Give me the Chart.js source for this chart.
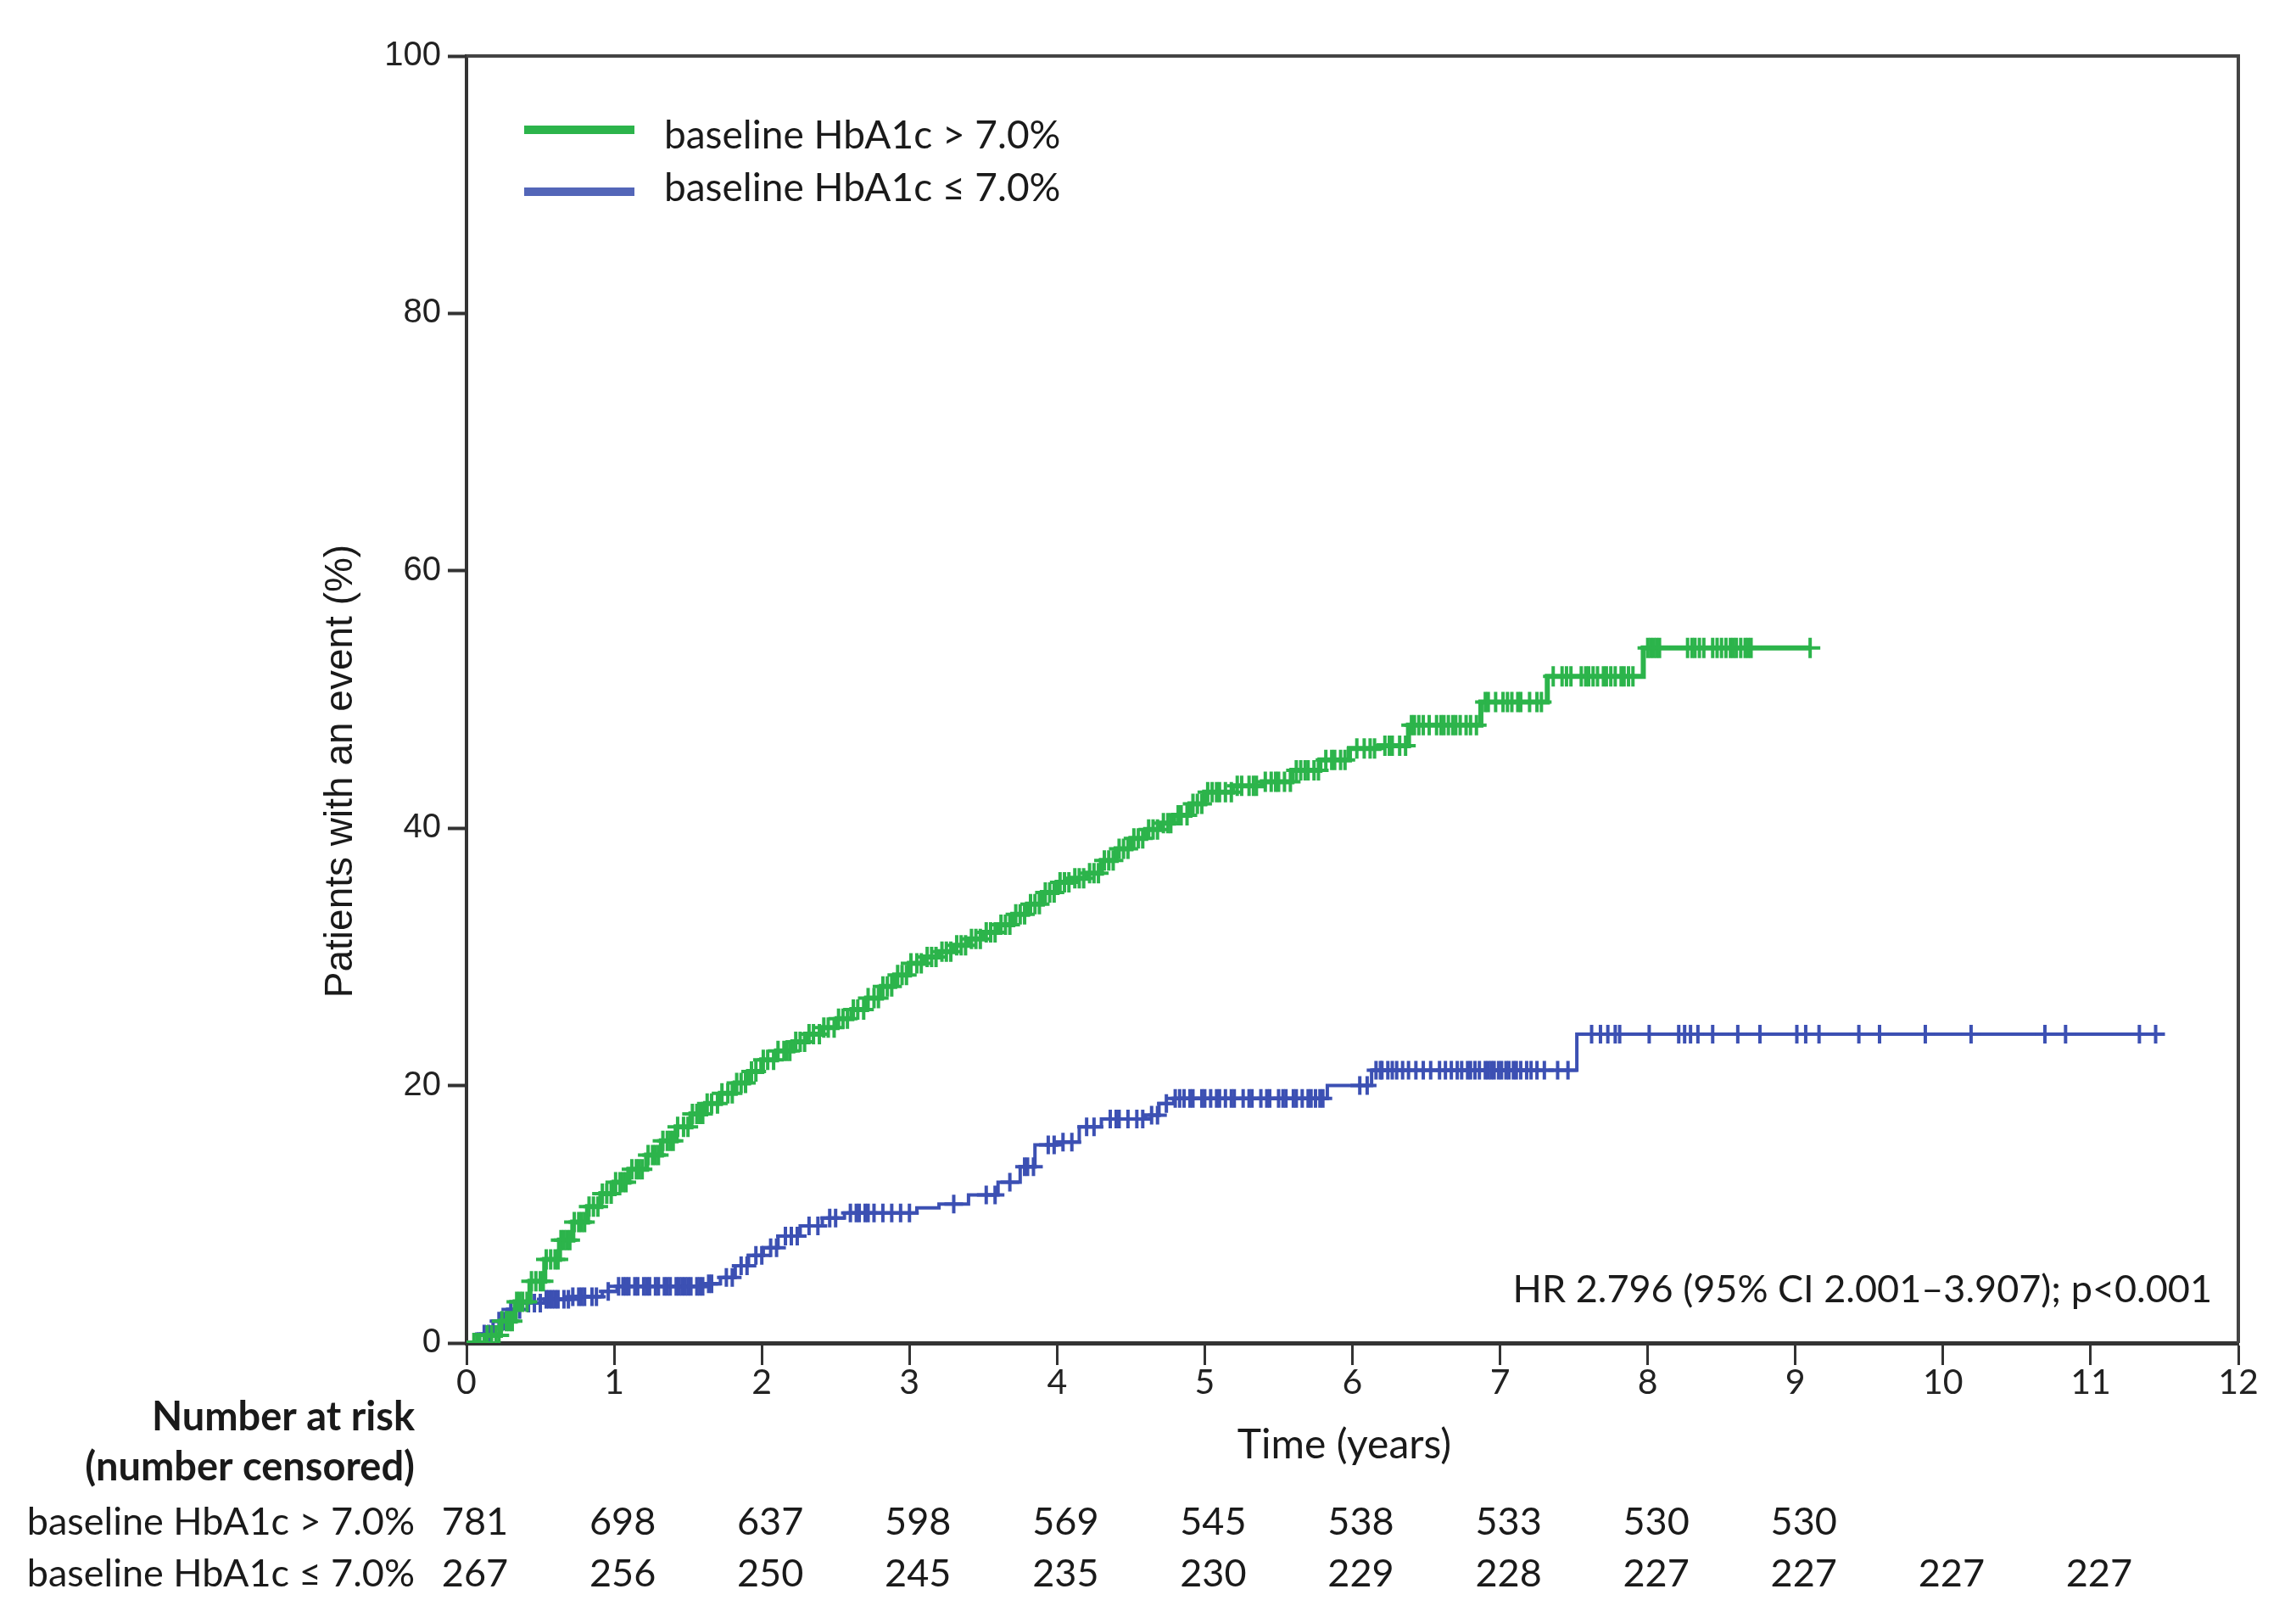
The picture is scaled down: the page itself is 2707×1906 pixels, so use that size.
<!DOCTYPE html>
<html>
<head>
<meta charset="utf-8">
<script src="https://cdn.jsdelivr.net/npm/chart.js@4.4.0/dist/chart.umd.min.js"></script>
<style>
    html, body { margin: 0; padding: 0; background: #fff; }
    #wrap { width: 2707px; height: 1906px; }
</style>
</head>
<body>
<div id="wrap"><canvas id="kmChart" width="2707" height="1906"></canvas></div>
<script>
// Series labels
const seriesLabels = ['baseline HbA1c > 7.0%', 'baseline HbA1c \u2264 7.0%'];

// baseline HbA1c > 7.0% : event steps (years, % with event)
const highTimes = [0, 0.13, 0.23, 0.33, 0.43, 0.53, 0.63, 0.72, 0.82, 0.91, 1.0, 1.1, 1.22, 1.32, 1.42, 1.52,
    1.62, 1.72, 1.82, 1.91, 2.0, 2.1, 2.21, 2.31, 2.41, 2.51, 2.61, 2.71, 2.81, 2.9, 3.0, 3.1, 3.2, 3.3,
    3.4, 3.5, 3.6, 3.7, 3.8, 3.9, 4.0, 4.1, 4.2, 4.3, 4.4, 4.5, 4.6, 4.7, 4.79, 4.9, 5.0, 5.19, 5.39,
    5.59, 5.78, 5.98, 6.18, 6.38, 6.87, 7.32, 7.97, 9.1];
const highValues = [0, 0.6, 1.7, 3.2, 4.8, 6.5, 8.0, 9.4, 10.6, 11.6, 12.5, 13.5, 14.6, 15.7, 16.8, 17.8,
    18.6, 19.4, 20.2, 21.1, 22.0, 22.7, 23.4, 24.0, 24.5, 25.2, 25.9, 26.8, 27.7, 28.6, 29.5, 30.0, 30.4, 30.9,
    31.4, 31.9, 32.5, 33.3, 34.1, 35.0, 35.8, 36.1, 36.5, 37.5, 38.4, 39.2, 39.9, 40.4, 41.0, 41.9, 42.8, 43.3, 43.6,
    44.5, 45.3, 46.2, 46.4, 48.0, 49.8, 51.8, 54.0, 54.0];
// censoring times (years)
const highCensor = [0.05, 0.07, 0.09, 0.12, 0.14, 0.17, 0.2, 0.22, 0.24, 0.27, 0.29, 0.31, 0.34, 0.36, 0.38,
    0.41, 0.44, 0.47, 0.5, 0.52, 0.54, 0.57, 0.6, 0.62, 0.64, 0.66, 0.68, 0.7, 0.73, 0.76, 0.78, 0.8, 0.83,
    0.86, 0.89, 0.92, 0.95, 0.98, 1.01, 1.04, 1.06, 1.08, 1.12, 1.15, 1.17, 1.19, 1.23, 1.26, 1.28, 1.3, 1.33,
    1.36, 1.38, 1.4, 1.43, 1.47, 1.5, 1.53, 1.56, 1.58, 1.6, 1.63, 1.66, 1.7, 1.73, 1.77, 1.8, 1.83, 1.86,
    1.89, 1.93, 1.96, 2.01, 2.04, 2.08, 2.11, 2.15, 2.17, 2.19, 2.23, 2.26, 2.29, 2.32, 2.35, 2.39, 2.42, 2.45,
    2.49, 2.52, 2.55, 2.58, 2.62, 2.65, 2.69, 2.72, 2.76, 2.79, 2.82, 2.85, 2.88, 2.92, 2.95, 2.98, 3.01, 3.05,
    3.08, 3.12, 3.15, 3.18, 3.22, 3.25, 3.28, 3.32, 3.35, 3.38, 3.42, 3.45, 3.48, 3.52, 3.55, 3.58, 3.62, 3.65,
    3.68, 3.72, 3.75, 3.78, 3.82, 3.85, 3.88, 3.92, 3.95, 3.98, 4.02, 4.05, 4.08, 4.12, 4.15, 4.18, 4.22, 4.25,
    4.28, 4.32, 4.35, 4.38, 4.42, 4.45, 4.48, 4.52, 4.55, 4.58, 4.62, 4.65, 4.68, 4.72, 4.75, 4.77, 4.82, 4.84,
    4.88, 4.92, 4.95, 4.98, 5.02, 5.05, 5.08, 5.1, 5.14, 5.18, 5.22, 5.25, 5.3, 5.33, 5.35, 5.41, 5.45, 5.48,
    5.5, 5.54, 5.58, 5.62, 5.65, 5.68, 5.7, 5.74, 5.77, 5.82, 5.86, 5.88, 5.92, 5.95, 6.03, 6.08, 6.12, 6.15,
    6.22, 6.25, 6.27, 6.32, 6.36, 6.4, 6.42, 6.45, 6.48, 6.52, 6.57, 6.6, 6.62, 6.65, 6.68, 6.7, 6.73, 6.77,
    6.8, 6.84, 6.9, 6.92, 6.97, 7.02, 7.05, 7.08, 7.12, 7.14, 7.2, 7.25, 7.28, 7.36, 7.42, 7.45, 7.48, 7.55,
    7.58, 7.6, 7.63, 7.66, 7.7, 7.72, 7.75, 7.78, 7.82, 7.84, 7.87, 7.9, 8.0, 8.02, 8.04, 8.06, 8.08, 8.27,
    8.3, 8.32, 8.35, 8.38, 8.44, 8.47, 8.5, 8.53, 8.56, 8.58, 8.6, 8.63, 8.66, 8.68, 8.7, 9.1];

// baseline HbA1c <= 7.0% : event steps
const lowTimes = [0, 0.08, 0.18, 0.28, 0.38, 0.53, 0.72, 0.92, 1.02, 1.62, 1.72, 1.82, 1.91, 2.01, 2.11, 2.26,
    2.41, 2.56, 3.05, 3.2, 3.4, 3.6, 3.75, 3.85, 4.0, 4.15, 4.3, 4.6, 4.69, 4.79, 5.83, 6.13, 7.52, 11.5];
const lowValues = [0, 0.7, 1.7, 2.6, 3.1, 3.4, 3.6, 4.0, 4.4, 4.6, 5.1, 6.0, 6.8, 7.4, 8.3, 9.1,
    9.7, 10.1, 10.5, 10.8, 11.5, 12.5, 13.7, 15.4, 15.6, 16.8, 17.4, 17.7, 18.6, 19.0, 20.0, 21.2, 24.0, 24.0];
const lowCensor = [0.12, 0.15, 0.22, 0.25, 0.3, 0.33, 0.36, 0.42, 0.46, 0.5, 0.54, 0.56, 0.58, 0.6, 0.62, 0.66,
    0.69, 0.72, 0.76, 0.78, 0.8, 0.85, 0.88, 0.96, 1.03, 1.06, 1.08, 1.1, 1.14, 1.16, 1.2, 1.22, 1.24, 1.28,
    1.3, 1.34, 1.36, 1.38, 1.42, 1.44, 1.46, 1.48, 1.5, 1.52, 1.56, 1.58, 1.6, 1.64, 1.66, 1.76, 1.8, 1.86,
    1.9, 1.96, 2.0, 2.06, 2.1, 2.16, 2.2, 2.24, 2.32, 2.38, 2.46, 2.5, 2.6, 2.64, 2.66, 2.7, 2.72, 2.76, 2.82,
    2.88, 2.94, 3.0, 3.3, 3.52, 3.58, 3.68, 3.78, 3.8, 3.84, 3.94, 3.98, 4.04, 4.1, 4.2, 4.25, 4.36, 4.4,
    4.42, 4.48, 4.54, 4.58, 4.64, 4.68, 4.74, 4.8, 4.83, 4.86, 4.9, 4.92, 4.98, 5.0, 5.04, 5.08, 5.1, 5.14,
    5.18, 5.2, 5.26, 5.3, 5.32, 5.38, 5.42, 5.44, 5.5, 5.53, 5.55, 5.6, 5.62, 5.66, 5.7, 5.72, 5.75, 5.78,
    5.8, 6.05, 6.1, 6.16, 6.19, 6.2, 6.24, 6.27, 6.3, 6.34, 6.38, 6.43, 6.48, 6.53, 6.59, 6.63, 6.67, 6.71,
    6.74, 6.78, 6.8, 6.83, 6.86, 6.9, 6.92, 6.94, 6.96, 6.99, 7.01, 7.04, 7.06, 7.09, 7.11, 7.14, 7.18, 7.21,
    7.25, 7.3, 7.39, 7.46, 7.62, 7.68, 7.73, 7.78, 7.81, 8.01, 8.21, 8.25, 8.29, 8.34, 8.44, 8.61, 8.76, 9.01,
    9.07, 9.16, 9.43, 9.57, 9.88, 10.19, 10.69, 10.83, 11.33, 11.44];

// Number at risk table
const riskYears = [0, 1, 2, 3, 4, 5, 6, 7, 8, 9, 10, 11];
const riskHigh = [781, 698, 637, 598, 569, 545, 538, 533, 530, 530, null, null];
const riskLow = [267, 256, 250, 245, 235, 230, 229, 228, 227, 227, 227, 227];

const hrText = 'HR 2.796 (95% CI 2.001\u20133.907); p<0.001';

const GREEN = '#2cb44b';
const BLUE = '#3c50b3';
const NARROW = 'Lato, "Open Sans", sans-serif';

function toPoints(times, values) {
    return times.map((t, i) => ({ x: t, y: values[i] }));
}

// value of the step function at time t
function stepAt(times, values, t) {
    let v = 0;
    for (let i = 0; i < times.length; i++) {
        if (times[i] <= t) v = values[i];
    }
    return v;
}

function censorPoints(censor, times, values) {
    return censor.map(t => ({ x: t, y: stepAt(times, values, t) }));
}

const kmDecor = {
    id: 'kmDecor',
    afterDraw(chart) {
        const { ctx, chartArea: a } = chart;
        const xs = chart.scales.x;
        ctx.save();

        // top and right frame
        ctx.strokeStyle = '#444';
        ctx.lineWidth = 4;
        ctx.beginPath();
        ctx.moveTo(a.left, a.top);
        ctx.lineTo(a.right, a.top);
        ctx.lineTo(a.right, a.bottom);
        ctx.stroke();

        // legend
        ctx.lineWidth = 10;
        ctx.strokeStyle = GREEN;
        ctx.beginPath(); ctx.moveTo(618, 153); ctx.lineTo(748, 153); ctx.stroke();
        ctx.strokeStyle = '#5366b8';
        ctx.beginPath(); ctx.moveTo(618, 226); ctx.lineTo(748, 226); ctx.stroke();
        ctx.fillStyle = '#1a1a1a';
        ctx.font = '46px ' + NARROW;
        ctx.textAlign = 'left';
        ctx.textBaseline = 'middle';
        ctx.fillText(seriesLabels[0], 783, 160);
        ctx.fillText(seriesLabels[1], 783, 222);

        // hazard ratio
        ctx.font = '45px ' + NARROW;
        ctx.textAlign = 'right';
        ctx.fillText(hrText, 2608, 1520);

        // x axis title
        ctx.font = '48px ' + NARROW;
        ctx.textAlign = 'center';
        ctx.fillText('Time (years)', 1585, 1704);

        // y axis title
        ctx.save();
        ctx.translate(402, 909);
        ctx.rotate(-Math.PI / 2);
        ctx.font = '46px "Liberation Sans", Arial, sans-serif';
        ctx.fillText('Patients with an event (%)', 0, 0);
        ctx.restore();

        // number at risk
        ctx.textAlign = 'right';
        ctx.font = 'bold 47px ' + NARROW;
        ctx.fillText('Number at risk', 489, 1671);
        ctx.fillText('(number censored)', 489, 1730);
        ctx.font = '45px ' + NARROW;
        ctx.fillText(seriesLabels[0], 489, 1794);
        ctx.fillText(seriesLabels[1], 489, 1855);
        ctx.textAlign = 'center';
        riskYears.forEach((yr, i) => {
            const px = xs.getPixelForValue(yr) + 10;
            if (riskHigh[i] !== null) ctx.fillText(String(riskHigh[i]), px, 1794);
            if (riskLow[i] !== null) ctx.fillText(String(riskLow[i]), px, 1855);
        });
        ctx.restore();
    }
};

const ctx = document.getElementById('kmChart').getContext('2d');
new Chart(ctx, {
    type: 'line',
    data: {
        datasets: [
            {
                label: seriesLabels[0] + ' censored',
                data: censorPoints(highCensor, highTimes, highValues),
                showLine: false,
                pointStyle: 'cross',
                pointRadius: 12,
                pointBorderWidth: 4,
                borderColor: GREEN,
                backgroundColor: GREEN
            },
            {
                label: seriesLabels[0],
                data: toPoints(highTimes, highValues),
                stepped: true,
                borderColor: GREEN,
                borderWidth: 6,
                pointRadius: 0,
                fill: false
            },
            {
                label: seriesLabels[1] + ' censored',
                data: censorPoints(lowCensor, lowTimes, lowValues),
                showLine: false,
                pointStyle: 'cross',
                pointRadius: 11,
                pointBorderWidth: 4,
                borderColor: BLUE,
                backgroundColor: BLUE
            },
            {
                label: seriesLabels[1],
                data: toPoints(lowTimes, lowValues),
                stepped: true,
                borderColor: BLUE,
                borderWidth: 4,
                pointRadius: 0,
                fill: false
            }
        ]
    },
    options: {
        responsive: false,
        devicePixelRatio: 1,
        animation: false,
        layout: { padding: { left: 0, right: 68, top: 66, bottom: 0 } },
        plugins: {
            legend: { display: false },
            tooltip: { enabled: false }
        },
        scales: {
            x: {
                type: 'linear',
                min: 0,
                max: 12,
                ticks: {
                    stepSize: 1,
                    autoSkip: false,
                    maxRotation: 0,
                    color: '#222',
                    padding: -4,
                    font: { family: NARROW, size: 41 }
                },
                grid: { drawOnChartArea: false, tickLength: 26, tickWidth: 3, tickColor: '#333' },
                border: { color: '#333', width: 5 },
                afterFit: s => { s.height = 323; }
            },
            y: {
                min: 0,
                max: 100,
                ticks: {
                    stepSize: 20,
                    color: '#222',
                    padding: 8,
                    font: { family: '"Liberation Sans", Arial, sans-serif', size: 40 }
                },
                grid: { drawOnChartArea: false, tickLength: 22, tickWidth: 4, tickColor: '#333' },
                border: { color: '#333', width: 4 },
                afterFit: s => { s.width = 550; }
            }
        }
    },
    plugins: [kmDecor]
});
</script>
</body>
</html>
